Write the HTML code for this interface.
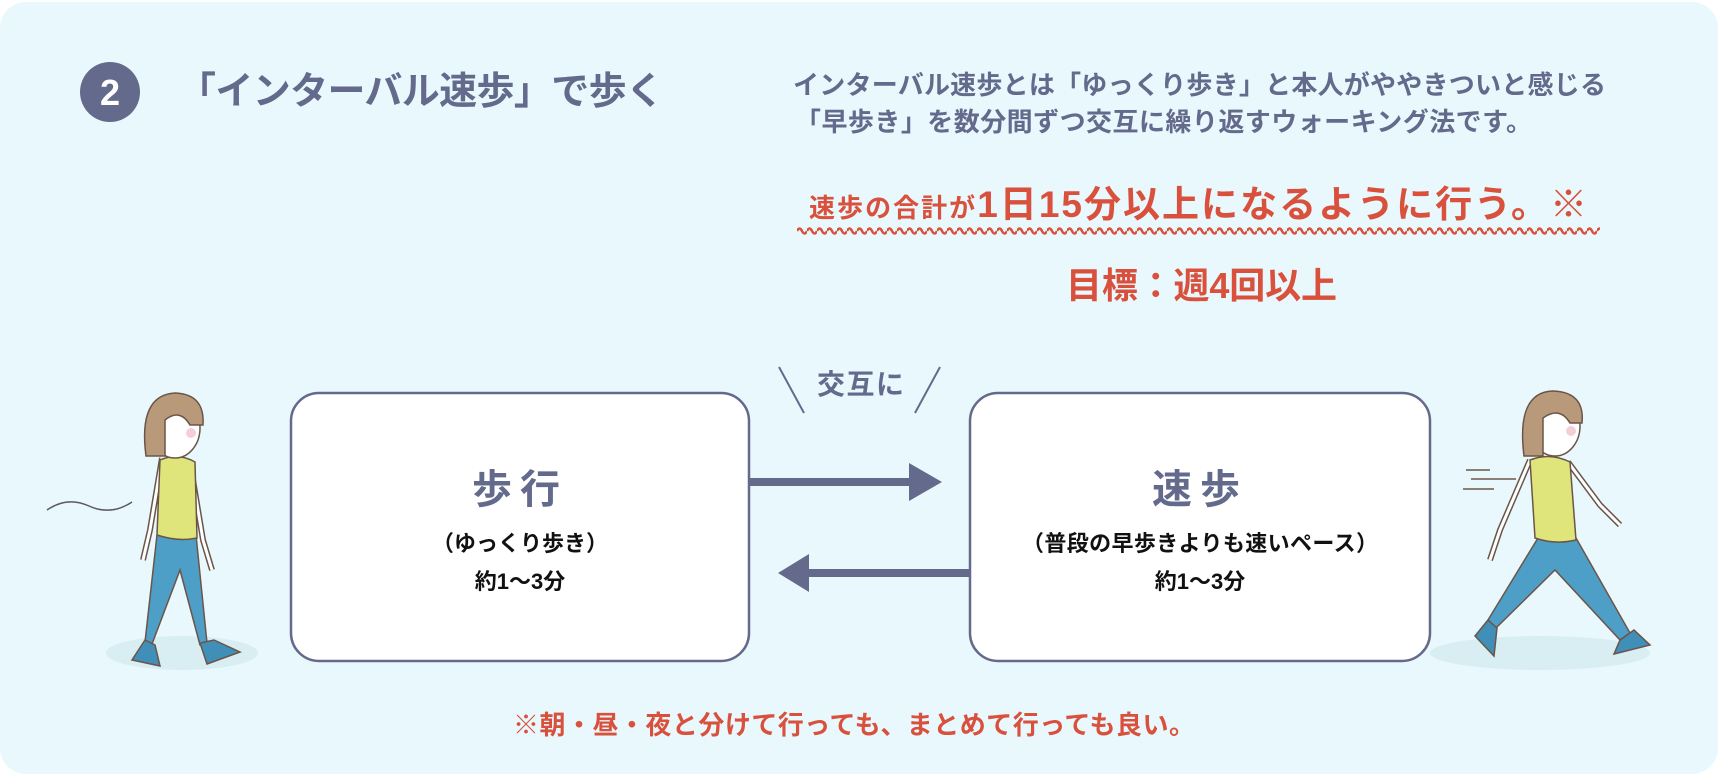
<!DOCTYPE html>
<html><head><meta charset="utf-8"><style>
html,body{margin:0;padding:0;background:#fff;}
svg{display:block;}
text{font-family:"Liberation Sans","Noto Sans CJK JP",sans-serif;font-weight:bold;}
</style></head><body>
<svg width="1720" height="776" viewBox="0 0 1720 776" xmlns="http://www.w3.org/2000/svg">
<defs>
<pattern id="wave" x="797" y="224" width="10" height="12" patternUnits="userSpaceOnUse">
<path d="M0 7 q2.5 -5 5 0 t5 0" fill="none" stroke="#d9503c" stroke-width="2.5"/>
</pattern>
</defs>
<rect x="0" y="2" width="1718" height="772" rx="26" fill="#e9f8fd"/>
<!-- header -->
<circle cx="110" cy="92" r="30" fill="#646a8c"/>
<text x="110" y="105" font-size="36" fill="#fff" text-anchor="middle" font-weight="normal">2</text>
<text x="178" y="104" font-size="38" fill="#646a8c" textLength="486">「インターバル速歩」で歩く</text>
<text x="793" y="94" font-size="26" fill="#646a8c" textLength="813">インターバル速歩とは「ゆっくり歩き」と本人がややきついと感じる</text>
<text x="795" y="131" font-size="26" fill="#646a8c" textLength="737">「早歩き」を数分間ずつ交互に繰り返すウォーキング法です。</text>
<text x="809" y="217" fill="#d9503c" textLength="778"><tspan font-size="26">速歩の合計が</tspan><tspan font-size="37">1日15分以上になるように行う。※</tspan></text>
<rect x="797" y="224" width="803" height="12" fill="url(#wave)"/>
<text x="1066" y="298" font-size="36" fill="#d9503c" textLength="271">目標：週4回以上</text>
<!-- alternating label -->
<text x="817" y="394" font-size="28" fill="#646a8c" textLength="87">交互に</text>
<line x1="779" y1="367" x2="804" y2="413" stroke="#646a8c" stroke-width="2"/>
<line x1="940" y1="367" x2="915" y2="413" stroke="#646a8c" stroke-width="2"/>
<!-- boxes -->
<rect x="291" y="393" width="458" height="268" rx="28" fill="#fff" stroke="#646a8c" stroke-width="2.5"/>
<rect x="970" y="393" width="460" height="268" rx="28" fill="#fff" stroke="#646a8c" stroke-width="2.5"/>
<text x="520" y="503" font-size="40" fill="#646a8c" text-anchor="middle" letter-spacing="8">歩行</text>
<text x="520" y="551" font-size="22" fill="#111" text-anchor="middle">（ゆっくり歩き）</text>
<text x="520" y="589" font-size="22" fill="#111" text-anchor="middle">約1〜3分</text>
<text x="1200" y="503" font-size="40" fill="#646a8c" text-anchor="middle" letter-spacing="8">速歩</text>
<text x="1200" y="551" font-size="22" fill="#111" text-anchor="middle" textLength="356">（普段の早歩きよりも速いペース）</text>
<text x="1200" y="589" font-size="22" fill="#111" text-anchor="middle">約1〜3分</text>
<!-- arrows -->
<rect x="749" y="478" width="165" height="8" fill="#646a8c"/>
<polygon points="909,463 942,482 909,501" fill="#646a8c"/>
<rect x="805" y="569" width="165" height="8" fill="#646a8c"/>
<polygon points="809,554 778,573 809,592" fill="#646a8c"/>
<text x="513" y="734" font-size="26" fill="#d9503c" textLength="682">※朝・昼・夜と分けて行っても、まとめて行っても良い。</text>
<!-- left walker -->
<ellipse cx="182" cy="653" rx="76" ry="17" fill="#d9eef3"/>
<path d="M47 510 q20 -14 42 -4 q22 10 43 -4" fill="none" stroke="#5a5a60" stroke-width="1.5"/>
<g stroke="#6a5548" stroke-width="1.5">
<path d="M162 458 L150 530 L143 560 M190 462 L203 540 L212 570" fill="none" stroke="#6a5548" stroke-width="6"/>
<path d="M162 458 L150 530 L143 560 M190 462 L203 540 L212 570" fill="none" stroke="#fff" stroke-width="3"/>
<path d="M157 535 L145 642 L152 644 L180 570 L200 645 L207 643 L196 535 Z" fill="#4e9fc7"/>
<path d="M160 460 Q178 452 195 462 L197 538 Q178 542 157 535 Z" fill="#dfe57a"/>
<path d="M145 640 L132 660 L160 666 L155 645 Z" fill="#3f8fb8"/>
<path d="M200 643 L207 664 L240 652 L214 640 Z" fill="#3f8fb8"/>
<ellipse cx="175" cy="428" rx="25" ry="30" fill="#fff"/>
<path d="M146 456 Q138 395 175 393 Q205 394 203 425 L190 425 Q180 408 165 420 L165 456 Z" fill="#b89a7a"/>
</g>
<circle cx="191" cy="433" r="5" fill="#f6cfd6"/>
<!-- right walker -->
<ellipse cx="1540" cy="653" rx="110" ry="17" fill="#d9eef3"/>
<g stroke="#6a5548" stroke-width="1.5" fill="none">
<path d="M1466 470 H1490 M1471 479 H1516 M1463 489 H1494"/>
</g>
<g stroke="#6a5548" stroke-width="1.5">
<path d="M1530 460 L1500 530 L1490 560 M1568 462 L1600 505 L1620 525" fill="none" stroke="#6a5548" stroke-width="6"/>
<path d="M1530 460 L1500 530 L1490 560 M1568 462 L1600 505 L1620 525" fill="none" stroke="#fff" stroke-width="3"/>
<path d="M1538 538 L1488 620 L1496 628 L1555 570 L1620 640 L1630 633 L1576 538 Z" fill="#4e9fc7"/>
<path d="M1530 460 Q1550 452 1570 462 L1576 540 Q1555 545 1535 538 Z" fill="#dfe57a"/>
<path d="M1488 620 L1475 636 L1494 656 L1497 628 Z" fill="#3f8fb8"/>
<path d="M1620 640 L1614 654 L1650 645 L1634 630 Z" fill="#3f8fb8"/>
<ellipse cx="1555" cy="426" rx="25" ry="30" fill="#fff"/>
<path d="M1524 456 Q1516 392 1553 391 Q1585 392 1582 423 L1570 423 Q1560 406 1543 418 L1543 456 Z" fill="#b89a7a"/>
</g>
<circle cx="1571" cy="431" r="5" fill="#f6cfd6"/>
</svg>
</body></html>
